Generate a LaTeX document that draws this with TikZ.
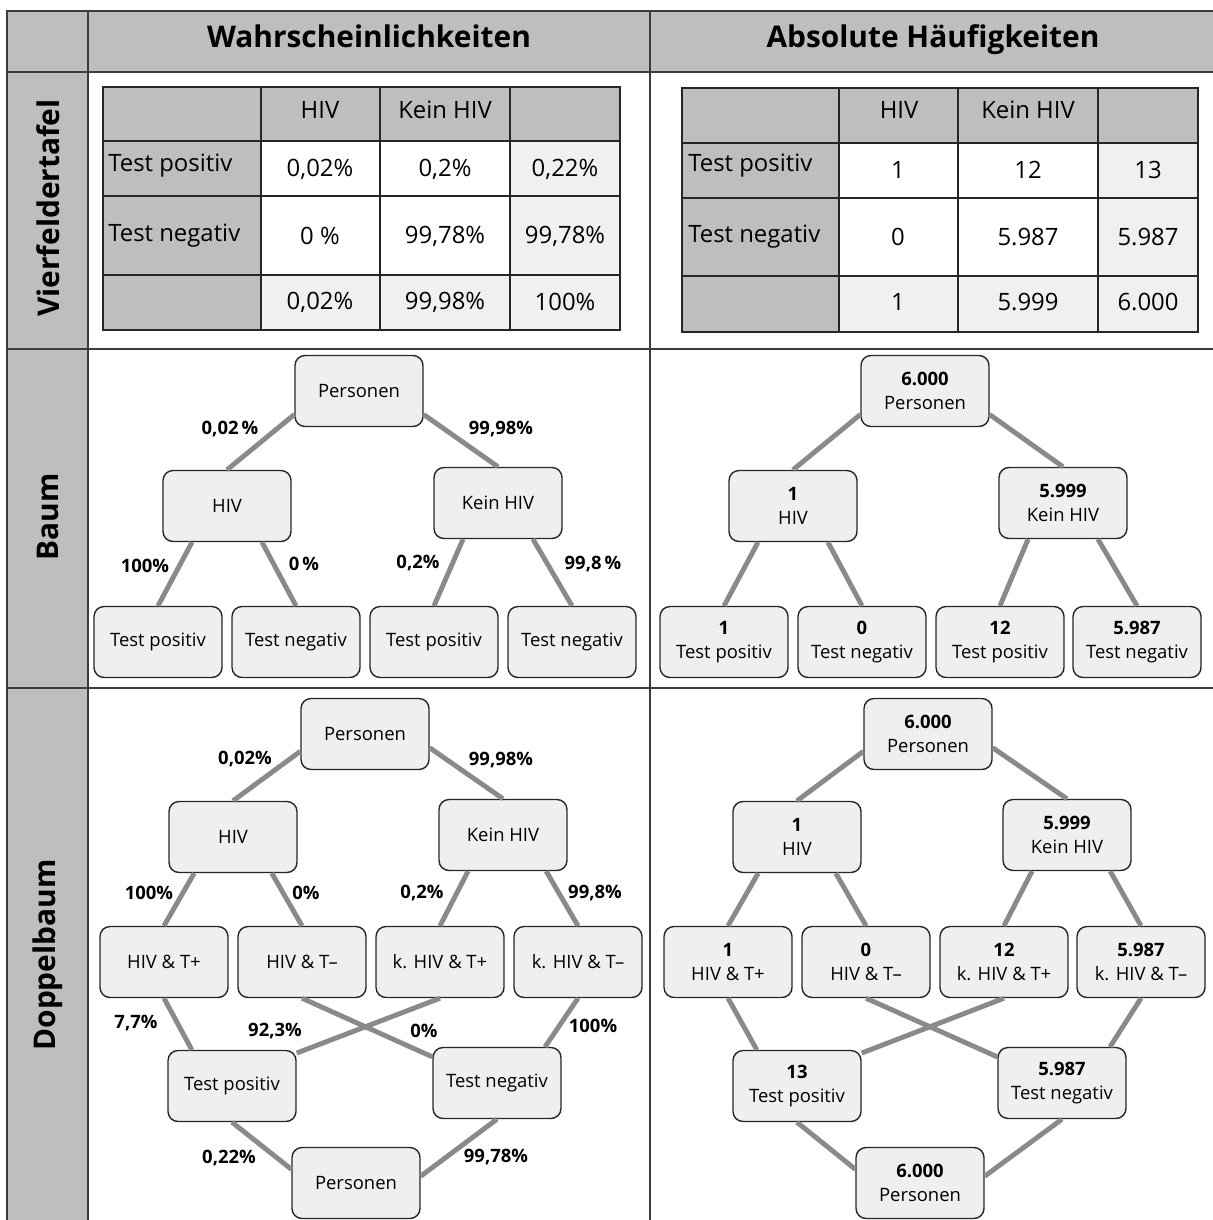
\documentclass[tikz,border=0pt]{standalone}
\usepackage{fontspec}
\setmainfont{Open Sans}
\usepackage{tikz}
\definecolor{hdgray}{HTML}{BDBEC0}
\definecolor{boxgray}{HTML}{EFEFEF}
\definecolor{sumgray}{HTML}{F0F0F0}
\definecolor{edgegray}{HTML}{8A8A8A}
\definecolor{framegray}{HTML}{3C3C3C}
\tikzstyle{box}=[rectangle, rounded corners=2mm, draw=black!85, line width=0.8pt, fill=boxgray, minimum width=2.56cm, minimum height=1.42cm, align=center, inner sep=1pt, font=\fontsize{10.5}{14}\selectfont]
\tikzstyle{connect}=[draw=edgegray, line width=2.8pt]
\tikzstyle{prob}=[inner sep=0pt, font=\fontsize{10.5}{12}\selectfont\bfseries]
\tikzstyle{cell}=[inner sep=0pt, font=\fontsize{13.6}{15}\selectfont]
\tikzstyle{head}=[inner sep=0pt, font=\fontsize{17}{20}\selectfont\bfseries]
\tikzstyle{grid}=[draw=black!85, line width=0.9pt]

\begin{document}
\begin{tikzpicture}[x=0.02cm, y=-0.02cm]
  \useasboundingbox (0,0) rectangle (1213,1220);

  % frame
  \fill[hdgray] (7,11) rectangle (1213,72);
  \fill[hdgray] (7,72) rectangle (88,1220);
  \draw[framegray, line width=1.1pt] (7,1220) -- (7,11) -- (1213,11);
  \foreach \y in {72,349,688} \draw[framegray, line width=1.1pt] (7,\y) -- (1213,\y);
  \foreach \x in {88,650} \draw[framegray, line width=1.1pt] (\x,11) -- (\x,1220);

  \node[head, anchor=base] (hw) at (369,48) {Wahrscheinlichkeiten};
  \node[head, anchor=base] (ha) at (933,48) {Absolute Häufigkeiten};
  \node[head, rotate=90] (rv) at (48,208) {Vierfeldertafel};
  \node[head, rotate=90] (rb) at (48,517) {Baum};
  \node[head, rotate=90] (rd) at (48,955) {Doppelbaum};

  % Vierfeldertafel, Wahrscheinlichkeiten
  \fill[hdgray] (103,87) rectangle (620,141);
  \fill[hdgray] (103,141) rectangle (261,330);
  \fill[white] (261,141) rectangle (510,275);
  \fill[sumgray] (510,141) rectangle (620,330);
  \fill[sumgray] (261,275) rectangle (510,330);
  \draw[grid] (103,87) rectangle (620,330);
  \foreach \x in {261,380,510} \draw[grid] (\x,87) -- (\x,330);
  \foreach \y in {141,196,275} \draw[grid] (103,\y) -- (620,\y);

  \node[cell] (wh1) at (320,110) {HIV};
  \node[cell] (wh2) at (445,110) {Kein HIV};
  \node[cell, anchor=west] (wr1) at (108,166) {Test positiv};
  \node[cell, anchor=west] (wr2) at (108,236) {Test negativ};
  \node[cell] (w11) at (320,169) {0,02\%};
  \node[cell] (w12) at (445,169) {0,2\%};
  \node[cell] (w13) at (565,169) {0,22\%};
  \node[cell] (w21) at (320,236) {0 \%};
  \node[cell] (w22) at (445,236) {99,78\%};
  \node[cell] (w23) at (565,236) {99,78\%};
  \node[cell] (w31) at (320,302) {0,02\%};
  \node[cell] (w32) at (445,302) {99,98\%};
  \node[cell] (w33) at (565,302) {100\%};

  % Vierfeldertafel, absolute Haeufigkeiten
  \fill[hdgray] (682,88) rectangle (1198,143);
  \fill[hdgray] (682,143) rectangle (839,332);
  \fill[white] (839,143) rectangle (1098,276);
  \fill[sumgray] (1098,143) rectangle (1198,332);
  \fill[sumgray] (839,276) rectangle (1098,332);
  \draw[grid] (682,88) rectangle (1198,332);
  \foreach \x in {839,958,1098} \draw[grid] (\x,88) -- (\x,332);
  \foreach \y in {143,198,276} \draw[grid] (682,\y) -- (1198,\y);

  \node[cell] (ah1) at (899,110) {HIV};
  \node[cell] (ah2) at (1028,110) {Kein HIV};
  \node[cell, anchor=west] (ar1) at (688,166) {Test positiv};
  \node[cell, anchor=west] (ar2) at (688,237) {Test negativ};
  \node[cell] (a11) at (898,170) {1};
  \node[cell] (a12) at (1028,170) {12};
  \node[cell] (a13) at (1148,170) {13};
  \node[cell] (a21) at (898,237) {0};
  \node[cell] (a22) at (1028,237) {5.987};
  \node[cell] (a23) at (1148,237) {5.987};
  \node[cell] (a31) at (898,302) {1};
  \node[cell] (a32) at (1028,302) {5.999};
  \node[cell] (a33) at (1148,302) {6.000};

  % Baum, Wahrscheinlichkeiten
  \node[box] (bP) at (359,391) {Personen};
  \node[box] (bH) at (227,506) {HIV};
  \node[box] (bK) at (498,503) {Kein HIV};
  \node[box] (bHp) at (158,642) {Test positiv};
  \node[box] (bHn) at (296,642) {Test negativ};
  \node[box] (bKp) at (434,642) {Test positiv};
  \node[box] (bKn) at (572,642) {Test negativ};

  \path (bP.200) edge [connect] (bH.north)
        (bP.-20) edge [connect] (bK.north)
        (bH.226) edge [connect] (bHp.north)
        (bH.314) edge [connect] (bHn.north)
        (bK.226) edge [connect] (bKp.north)
        (bK.314) edge [connect] (bKn.north);

  \node[prob] (bl1) at (230,429) {0,02\,\%};
  \node[prob] (bl2) at (501,429) {99,98\%};
  \node[prob] (bl3) at (145,566) {100\%};
  \node[prob] (bl4) at (304,564) {0\,\%};
  \node[prob] (bl5) at (418,563) {0,2\%};
  \node[prob] (bl6) at (593,564) {99,8\,\%};

  % Baum, absolute Haeufigkeiten
  \node[box] (cP) at (925,391) {\textbf{6.000}\\Personen};
  \node[box] (cH) at (793,506) {\textbf{1}\\HIV};
  \node[box] (cK) at (1063,503) {\textbf{5.999}\\Kein HIV};
  \node[box] (cHp) at (724,642) {\textbf{1}\\Test positiv};
  \node[box] (cHn) at (862,642) {\textbf{0}\\Test negativ};
  \node[box] (cKp) at (1000,642) {\textbf{12}\\Test positiv};
  \node[box] (cKn) at (1137,642) {\textbf{5.987}\\Test negativ};

  \path (cP.200) edge [connect] (cH.north)
        (cP.-20) edge [connect] (cK.north)
        (cH.226) edge [connect] (cHp.north)
        (cH.314) edge [connect] (cHn.north)
        (cK.226) edge [connect] (cKp.north)
        (cK.314) edge [connect] (cKn.north);

  % Doppelbaum, Wahrscheinlichkeiten
  \node[box] (dP) at (365,734) {Personen};
  \node[box] (dH) at (233,837) {HIV};
  \node[box] (dK) at (503,835) {Kein HIV};
  \node[box] (dHp) at (164,962) {HIV \& T+};
  \node[box] (dHn) at (302,962) {HIV \& T–};
  \node[box] (dKp) at (440,962) {k. HIV \& T+};
  \node[box] (dKn) at (578,962) {k. HIV \& T–};
  \node[box] (dTp) at (232,1086) {Test positiv};
  \node[box] (dTn) at (497,1083) {Test negativ};
  \node[box] (dQ) at (356,1183) {Personen};

  \path (dP.195) edge [connect] (dH.north)
        (dP.-12) edge [connect] (dK.north)
        (dH.223) edge [connect] (dHp.north)
        (dH.317) edge [connect] (dHn.north)
        (dK.226) edge [connect] (dKp.north)
        (dK.320) edge [connect] (dKn.north)
        (dHp.south) edge [connect] (dTp.138)
        (dHn.south) edge [connect] (dTn.158)
        (dKp.south) edge [connect] (dTp.27)
        (dKn.south) edge [connect] (dTn.37)
        (dTp.south) edge [connect] (dQ.168)
        (dTn.south) edge [connect] (dQ.6);

  \node[prob] (dl1) at (245,759) {0,02\%};
  \node[prob] (dl2) at (501,760) {99,98\%};
  \node[prob] (dl3) at (149,893) {100\%};
  \node[prob] (dl4) at (306,893) {0\%};
  \node[prob] (dl5) at (422,893) {0,2\%};
  \node[prob] (dl6) at (595,893) {99,8\%};
  \node[prob] (dl7) at (136,1023) {7,7\%};
  \node[prob] (dl8) at (275,1031) {92,3\%};
  \node[prob] (dl9) at (424,1031) {0\%};
  \node[prob] (dl10) at (593,1026) {100\%};
  \node[prob] (dl11) at (229,1158) {0,22\%};
  \node[prob] (dl12) at (496,1157) {99,78\%};

  % Doppelbaum, absolute Haeufigkeiten
  \node[box] (eP) at (928,734) {\textbf{6.000}\\Personen};
  \node[box] (eH) at (797,837) {\textbf{1}\\HIV};
  \node[box] (eK) at (1067,835) {\textbf{5.999}\\Kein HIV};
  \node[box] (eHp) at (728,962) {\textbf{1}\\HIV \& T+};
  \node[box] (eHn) at (866,962) {\textbf{0}\\HIV \& T–};
  \node[box] (eKp) at (1004,962) {\textbf{12}\\k. HIV \& T+};
  \node[box] (eKn) at (1141,962) {\textbf{5.987}\\k. HIV \& T–};
  \node[box] (eTp) at (797,1086) {\textbf{13}\\Test positiv};
  \node[box] (eTn) at (1062,1083) {\textbf{5.987}\\Test negativ};
  \node[box] (eQ) at (920,1183) {\textbf{6.000}\\Personen};

  \path (eP.195) edge [connect] (eH.north)
        (eP.-12) edge [connect] (eK.north)
        (eH.223) edge [connect] (eHp.north)
        (eH.317) edge [connect] (eHn.north)
        (eK.226) edge [connect] (eKp.north)
        (eK.320) edge [connect] (eKn.north)
        (eHp.south) edge [connect] (eTp.138)
        (eHn.south) edge [connect] (eTn.158)
        (eKp.south) edge [connect] (eTp.27)
        (eKn.south) edge [connect] (eTn.37)
        (eTp.south) edge [connect] (eQ.168)
        (eTn.south) edge [connect] (eQ.6);
\end{tikzpicture}
\end{document}
